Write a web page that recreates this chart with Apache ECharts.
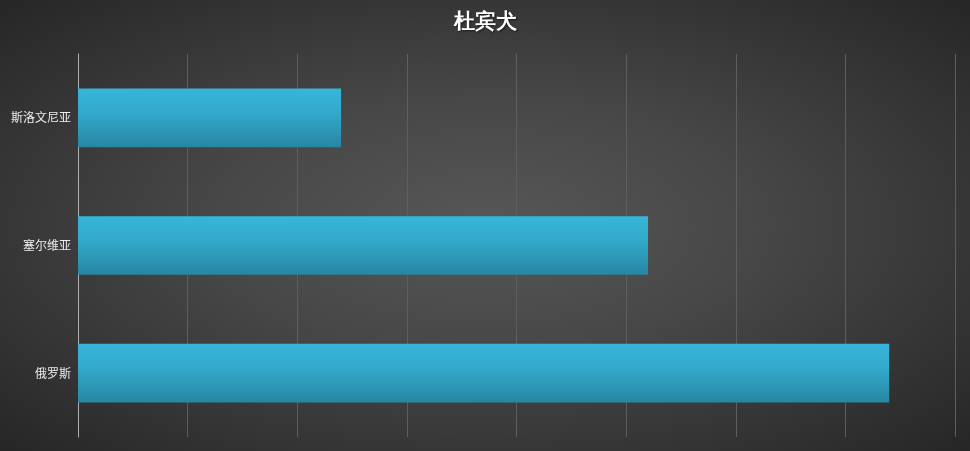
<!DOCTYPE html>
<html><head><meta charset="utf-8">
<script src="https://cdn.jsdelivr.net/npm/echarts@6/dist/echarts.min.js"></script>
<style>
html,body{margin:0;padding:0;}
#c{width:970px;height:451px;background:radial-gradient(ellipse farthest-corner at 50% 50%, #575757 0%, #474747 40%, #262626 100%);}
</style></head>
<body><div id="c"></div>
<script>
var categories = ['俄罗斯', '塞尔维亚', '斯洛文尼亚'];
var values = [7.4, 5.2, 2.4];
var axisMax = 8;
var axisInterval = 1;

var chart = echarts.init(document.getElementById('c'));
chart.setOption({
  backgroundColor: 'transparent',
  title: {
    text: '杜宾犬', left: 'center', top: 7,
    textStyle: {color: '#ffffff', fontSize: 21, fontWeight: 'bold', fontFamily: 'serif',
      textShadowColor: 'rgba(0,0,0,0.6)', textShadowBlur: 2, textShadowOffsetX: 1, textShadowOffsetY: 1}
  },
  grid: {left: 78, right: 15, top: 54, bottom: 14, containLabel: false},
  xAxis: {
    type: 'value', min: 0, max: axisMax, interval: axisInterval,
    axisLabel: {show: false}, axisLine: {show: false}, axisTick: {show: false},
    splitLine: {show: true, lineStyle: {color: '#5e5e5e', width: 1}}
  },
  yAxis: {
    type: 'category', data: categories,
    axisLine: {show: true, lineStyle: {color: '#b0b0b0', width: 1}},
    axisTick: {show: false},
    axisLabel: {color: '#ececec', fontSize: 12, margin: 7, fontFamily: 'Noto Sans CJK SC'}
  },
  series: [{
    type: 'bar', data: values, barWidth: '46%',
    itemStyle: {
      color: new echarts.graphic.LinearGradient(0, 0, 0, 1, [
        {offset: 0, color: '#37b5d9'}, {offset: 0.4, color: '#33aacc'}, {offset: 1, color: '#2886a2'}
      ]),
      shadowColor: 'rgba(0,0,0,0.55)', shadowBlur: 5, shadowOffsetX: 2, shadowOffsetY: 2
    }
  }]
});
</script></body></html>
